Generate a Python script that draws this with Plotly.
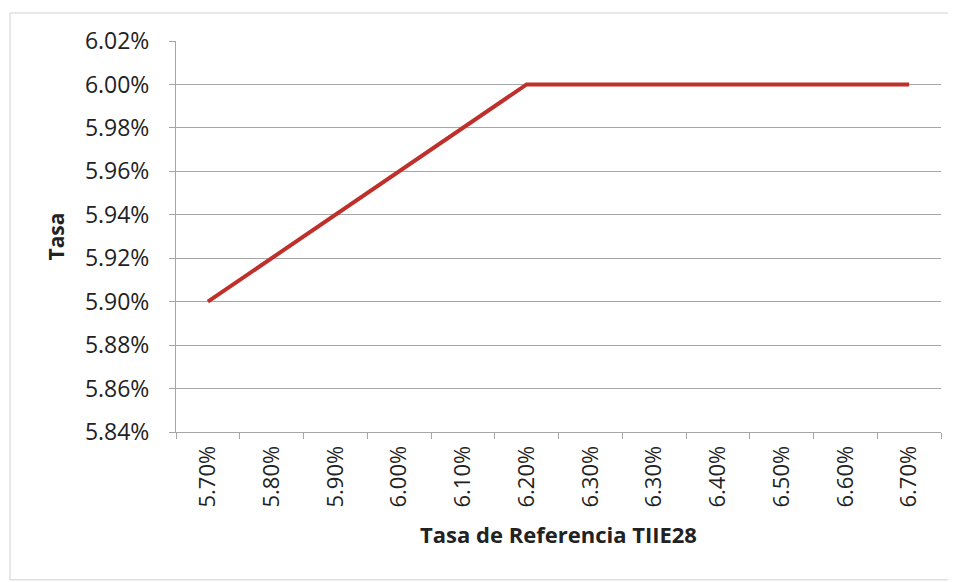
import plotly.graph_objects as go

categorias = ["5.70%", "5.80%", "5.90%", "6.00%", "6.10%", "6.20%",
              "6.30%", "6.30%", "6.40%", "6.50%", "6.60%", "6.70%"]
tasa = [5.90, 5.92, 5.94, 5.96, 5.98, 6.00, 6.00, 6.00, 6.00, 6.00, 6.00, 6.00]
y_ticks = [5.84, 5.86, 5.88, 5.90, 5.92, 5.94, 5.96, 5.98, 6.00, 6.02]

idx = list(range(len(categorias)))

fig = go.Figure()
fig.add_trace(go.Scatter(x=idx, y=tasa, mode="lines",
                         line=dict(color="#c0302b", width=4),
                         showlegend=False, hoverinfo="skip"))

font = "Open Sans, DejaVu Sans, sans-serif"
txt = "#222222"
fig.update_layout(
    width=956, height=582,
    margin=dict(l=168, r=23, t=33, b=158),
    paper_bgcolor="white", plot_bgcolor="white",
    font=dict(family=font, color=txt),
    xaxis=dict(
        tickmode="array", tickvals=idx, ticktext=categorias,
        range=[-0.5, len(categorias) - 0.5],
        tickangle=-90, tickfont=dict(size=22, family=font, color=txt),
        ticks="", showgrid=False, showline=True, linecolor="#a6a6a6", linewidth=1,
        minor=dict(tickvals=[i - 0.5 for i in range(len(categorias) + 1)],
                   ticks="outside", ticklen=6, tickcolor="#a6a6a6", showgrid=False),
        title=dict(text="<b>Tasa de Referencia TIIE28</b>",
                   font=dict(size=22, family=font, color=txt), standoff=21),
        zeroline=False, ticklabelstandoff=4,
    ),
    yaxis=dict(
        tickmode="array", tickvals=y_ticks,
        ticktext=[f"{v:.2f}%" for v in y_ticks],
        range=[5.84, 6.02],
        tickfont=dict(size=23, family=font, color=txt),
        ticks="outside", ticklen=6, tickcolor="#a6a6a6",
        showgrid=True, gridcolor="#a6a6a6", gridwidth=1,
        showline=True, linecolor="#a6a6a6", linewidth=1,
        title=dict(text="<b>Tasa</b>", font=dict(size=21, family=font, color=txt),
                   standoff=14),
        zeroline=False, ticklabelstandoff=15,
    ),
    shapes=[dict(type="rect", xref="paper", yref="paper",
                 x0=-0.217, x1=1.017, y0=-0.378, y1=1.0716,
                 line=dict(color="#d0d0d0", width=1))],
)

fig.write_html("out.html")
